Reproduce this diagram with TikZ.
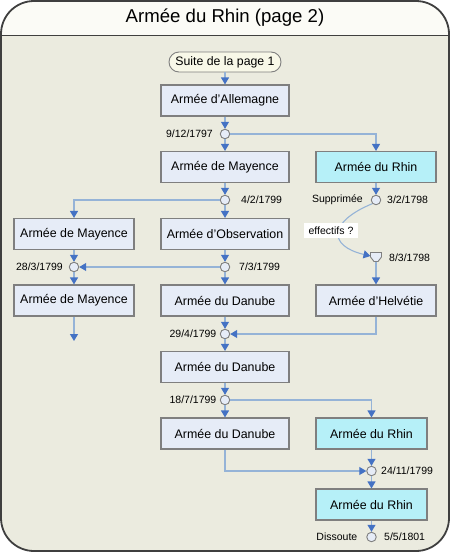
\documentclass[tikz,border=0pt]{standalone}
\usepackage{fontspec}
\setmainfont{Liberation Sans}
\usetikzlibrary{arrows.meta}
\definecolor{bodyfill}{HTML}{EBEBDF}
\definecolor{headfill}{HTML}{FBFBF6}
\definecolor{framecol}{HTML}{3F3F3F}
\definecolor{boxfill}{HTML}{E6ECF7}
\definecolor{cyanfill}{HTML}{B6F0F8}
\definecolor{pillfill}{HTML}{F8F8E8}
\definecolor{bordergrey}{HTML}{7F7F7F}
\definecolor{linecol}{HTML}{95B3D7}
\definecolor{arrowcol}{HTML}{4472C4}
\tikzset{
  boxA/.style={draw=bordergrey, line width=1.1pt, fill=boxfill, minimum height=31pt, inner sep=0pt, font=\fontsize{12.4}{14}\selectfont},
  midbox/.style={boxA, minimum width=128pt},
  sidebox/.style={boxA, minimum width=120pt},
  cyanbox/.style={boxA, fill=cyanfill, minimum width=120pt},
  cyanboxs/.style={boxA, fill=cyanfill, minimum width=111pt},
  junc/.style={circle, draw=bordergrey, line width=0.9pt, fill=boxfill, minimum size=9.5pt, inner sep=0pt},
  lbl/.style={inner sep=0pt, font=\fontsize{10.5}{12}\selectfont},
  conn/.style={draw=linecol, line width=1.1pt, -{Triangle[width=8pt,length=7pt,color=arrowcol]}},
  plainconn/.style={draw=linecol, line width=1.1pt},
}
\begin{document}
\begin{tikzpicture}[x=1pt,y=-1pt]
\useasboundingbox (0,0) rectangle (450,552);
% frame
\begin{scope}
\clip[rounded corners=33pt] (1,1) rectangle (449,551);
\fill[bodyfill] (0,0) rectangle (450,552);
\fill[headfill] (0,0) rectangle (450,35.5);
\draw[framecol, line width=1.6pt] (0,35.5) -- (450,35.5);
\end{scope}
\draw[framecol, line width=1.8pt, rounded corners=33pt] (1,1) rectangle (449,551);
\node[inner sep=0pt, font=\fontsize{18.6}{22}\selectfont] (title) at (225,18) {Armée du Rhin (page 2)};

% nodes
\node[draw=bordergrey, line width=0.9pt, fill=pillfill, rounded corners=10pt, minimum width=112pt, minimum height=20pt, inner sep=0pt, font=\fontsize{12.3}{14}\selectfont] (start) at (225,62) {Suite de la page 1};
\node[midbox] (allem) at (225,100.5) {Armée d’Allemagne};
\node[junc] (j1) at (225,134) {};
\node[midbox] (mayc) at (225,167) {Armée de Mayence};
\node[cyanbox] (rhin1) at (376,167) {Armée du Rhin};
\node[junc] (j2) at (225,200) {};
\node[junc] (j3) at (376,200) {};
\node[sidebox] (mayl1) at (74,234) {Armée de Mayence};
\node[midbox] (obs) at (225,234) {Armée d’Observation};
\draw[bordergrey, line width=0.9pt, fill=boxfill] (370.5,252.5) -- (381.5,252.5) -- (381.5,257) -- (378,261.5) -- (374,261.5) -- (370.5,257) -- cycle;
\coordinate (trap) at (376,257);
\coordinate (trapN) at (376,252.5);
\coordinate (trapS) at (376,261.5);
\coordinate (trapW) at (370.5,256);
\node[junc] (j4) at (74,267) {};
\node[junc] (j5) at (225,267) {};
\node[sidebox] (mayl2) at (74,300.5) {Armée de Mayence};
\node[midbox] (dan1) at (225,300.5) {Armée du Danube};
\node[sidebox] (helv) at (376,300.5) {Armée d’Helvétie};
\coordinate (lend) at (74,341);
\node[junc] (j6) at (225,334) {};
\node[midbox] (dan2) at (225,367) {Armée du Danube};
\node[junc] (j7) at (225,400) {};
\node[midbox] (dan3) at (225,433.5) {Armée du Danube};
\node[cyanboxs] (rhin2) at (371.5,433.5) {Armée du Rhin};
\node[junc] (j8) at (371.5,471) {};
\node[cyanboxs] (rhin3) at (371.5,504.5) {Armée du Rhin};
\node[junc] (j9) at (371.5,537) {};

% labels
\node[lbl, anchor=east] (l1) at (213,134) {9/12/1797};
\node[lbl, anchor=west] (l2) at (241,200) {4/2/1799};
\node[lbl, anchor=east] (l3a) at (363,200) {Supprimée};
\node[lbl, anchor=west] (l3b) at (387,200) {3/2/1798};
\node[lbl, anchor=west] (l4) at (389,257.5) {8/3/1798};
\node[lbl, anchor=east] (l5) at (63,267) {28/3/1799};
\node[lbl, anchor=west] (l6) at (239,267) {7/3/1799};
\node[lbl, anchor=east] (l7) at (216.5,334) {29/4/1799};
\node[lbl, anchor=east] (l8) at (216.5,400) {18/7/1799};
\node[lbl, anchor=west] (l9) at (381,471) {24/11/1799};
\node[lbl, anchor=east] (l10a) at (357.5,537) {Dissoute};
\node[lbl, anchor=west] (l10b) at (384,537) {5/5/1801};

% connectors
\draw[conn] (start) -- (allem);
\draw[conn] (allem) -- (j1);
\draw[conn] (j1) -- (mayc);
\draw[conn] (j1) -| (rhin1);
\draw[conn] (mayc) -- (j2);
\draw[conn] (j2) -- (obs);
\draw[conn] (j2) -| (mayl1);
\draw[conn] (rhin1) -- (j3);
\draw[conn] (j3.south west) .. controls (328,222) and (328,246) .. (trapW);
\node[fill=white, inner sep=0pt, minimum width=54pt, minimum height=15pt, font=\fontsize{10.5}{12}\selectfont] (eff) at (331,230.5) {effectifs ?};
\draw[conn] (trapS) -- (helv);
\draw[conn] (mayl1) -- (j4);
\draw[conn] (obs) -- (j5);
\draw[conn] (j5) -- (j4);
\draw[conn] (j5) -- (dan1);
\draw[conn] (j4) -- (mayl2);
\draw[conn] (mayl2) -- (lend);
\draw[conn] (dan1) -- (j6);
\draw[conn] (helv) |- (j6);
\draw[conn] (j6) -- (dan2);
\draw[conn] (dan2) -- (j7);
\draw[conn] (j7) -- (dan3);
\draw[conn] (j7) -| (rhin2);
\draw[conn] (dan3) |- (j8);
\draw[conn] (rhin2) -- (j8);
\draw[conn] (j8) -- (rhin3);
\draw[conn] (rhin3) -- (j9);
\end{tikzpicture}
\end{document}
